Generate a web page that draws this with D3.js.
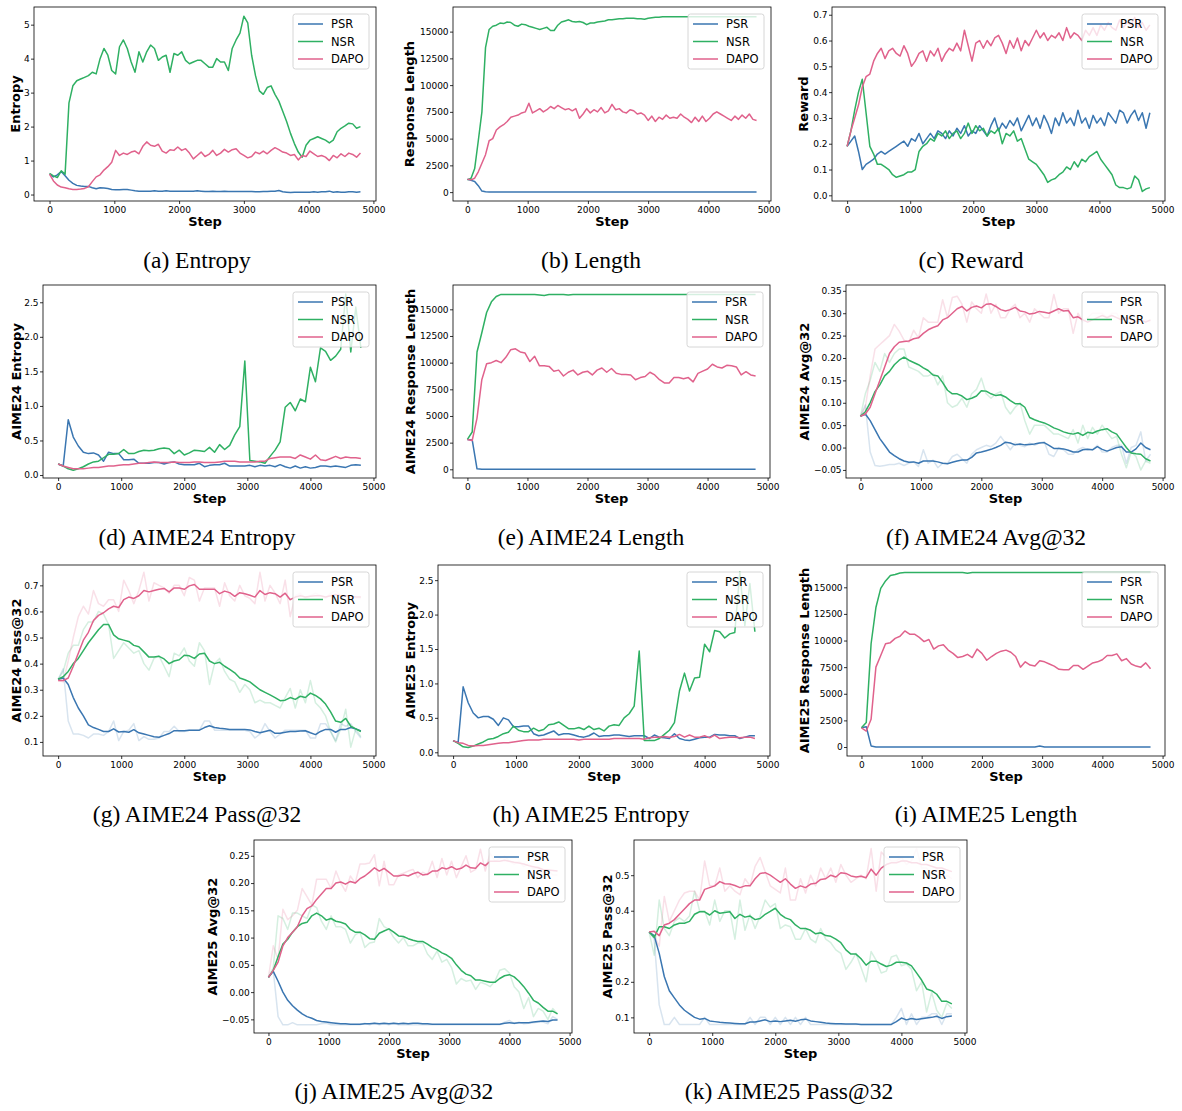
<!DOCTYPE html>
<html>
<head>
<meta charset="utf-8">
<script src="https://cdn.jsdelivr.net/npm/d3@7"></script>
<style>
body { margin: 0; background: #fff; }
svg text { font-family: "DejaVu Sans", sans-serif; }
</style>
</head>
<body>
<svg id="fig" width="1182" height="1111"></svg>
<script>
// ---- steps ----
const trainSteps = [0,60,120,180,240,300,360,420,480,540,
  600,660,720,780,840,900,960,1020,1080,1140,
  1200,1260,1320,1380,1440,1500,1560,1620,1680,1740,
  1800,1860,1920,1980,2040,2100,2160,2220,2280,2340,
  2400,2460,2520,2580,2640,2700,2760,2820,2880,2940,
  3000,3060,3120,3180,3240,3300,3360,3420,3480,3540,
  3600,3660,3720,3780,3840,3900,3960,4020,4080,4140,
  4200,4260,4320,4380,4440,4500,4560,4620,4680,4740,
  4800];
const evalSteps = [0,80,160,240,320,400,480,560,640,720,
  800,880,960,1040,1120,1200,1280,1360,1440,1520,
  1600,1680,1760,1840,1920,2000,2080,2160,2240,2320,
  2400,2480,2560,2640,2720,2800,2880,2960,3040,3120,
  3200,3280,3360,3440,3520,3600,3680,3760,3840,3920,
  4000,4080,4160,4240,4320,4400,4480,4560,4640,4720,
  4800];
const xTicks = [0,1000,2000,3000,4000,5000];
const methods = ["PSR","NSR","DAPO"];

// ---- (a) training entropy ----
const entropyPSR = [0.6,0.52,0.58,0.68,0.55,0.42,0.33,0.27,0.25,0.24,
  0.24,0.2,0.17,0.2,0.19,0.18,0.15,0.14,0.14,0.15,
  0.15,0.13,0.11,0.1,0.1,0.1,0.1,0.11,0.1,0.1,
  0.11,0.1,0.1,0.1,0.1,0.1,0.1,0.1,0.11,0.1,
  0.09,0.09,0.1,0.09,0.09,0.1,0.09,0.09,0.09,0.09,
  0.09,0.09,0.09,0.08,0.08,0.09,0.09,0.1,0.1,0.12,
  0.08,0.07,0.06,0.07,0.07,0.07,0.07,0.07,0.08,0.07,
  0.08,0.08,0.1,0.07,0.08,0.07,0.07,0.08,0.08,0.07,
  0.08];
const entropyNSR = [0.62,0.55,0.5,0.7,0.6,2.7,3.2,3.35,3.4,3.45,
  3.5,3.6,3.55,4.0,4.3,4.1,3.65,3.55,4.35,4.55,
  4.3,3.9,3.6,4.2,3.9,4.2,4.4,4.3,3.95,4.05,
  4.1,3.6,4.15,4.1,4.2,3.95,3.85,3.9,3.95,3.95,
  3.85,3.75,3.75,4.0,3.9,3.9,3.65,4.3,4.55,4.75,
  5.25,5.05,4.1,3.5,3.05,2.95,3.15,3.2,2.95,2.75,
  2.45,2.15,1.8,1.5,1.25,1.1,1.45,1.6,1.65,1.7,
  1.65,1.6,1.52,1.6,1.85,1.95,2.02,2.1,2.08,1.95,
  2.0];
const entropyDAPO = [0.6,0.4,0.28,0.22,0.2,0.17,0.15,0.15,0.16,0.18,
  0.23,0.38,0.52,0.58,0.72,0.82,0.95,1.3,1.15,1.22,
  1.18,1.25,1.28,1.2,1.42,1.55,1.45,1.42,1.48,1.28,
  1.22,1.32,1.3,1.4,1.3,1.35,1.22,1.05,1.15,1.25,
  1.12,1.18,1.3,1.15,1.22,1.33,1.25,1.32,1.35,1.22,
  1.15,1.08,1.12,1.25,1.2,1.28,1.2,1.3,1.38,1.32,
  1.25,1.22,1.15,1.18,1.02,1.15,1.12,1.28,1.2,1.12,
  1.15,1.1,1.0,1.15,1.08,1.2,1.12,1.22,1.18,1.1,
  1.22];

// ---- (b) training response length ----
const lengthPSR = [1200,1100,1000,600,100,30,20,20,20,20,
  20,20,20,20,20,20,20,20,20,20,
  20,20,20,20,20,20,20,20,20,20,
  20,20,20,20,20,20,20,20,20,20,
  20,20,20,20,20,20,20,20,20,20,
  20,20,20,20,20,20,20,20,20,20,
  20,20,20,20,20,20,20,20,20,20,
  20,20,20,20,20,20,20,20,20,20,
  20];
const lengthNSR = [1150,1300,2200,4800,7500,13500,15200,15500,15600,15800,
  15750,15900,15850,15600,15500,15700,15650,15500,15400,15300,
  15200,15300,15400,15100,15100,15600,15900,16000,16100,15950,
  15900,15950,15850,15650,15800,15800,15900,15950,16000,16100,
  16100,16150,16200,16200,16250,16250,16250,16200,16200,16150,
  16250,16300,16350,16350,16380,16380,16380,16380,16380,16380,
  16380,16380,16380,16380,16380,16380,16380,16380,16380,16380,
  16380,16380,16380,16380,16380,16380,16380,16380,16380,16380,
  16380];
const lengthDAPO = [1200,1150,1300,1900,2700,3500,4800,5000,5800,6100,
  6300,6600,7000,7100,7200,7400,7500,8300,7400,7600,
  7800,7500,7700,8000,7800,8100,7900,7700,7800,7600,
  7800,6900,7300,7800,7400,7700,7500,7900,7400,7600,
  8200,7700,7800,7500,7400,7700,7600,7300,7400,7200,
  6700,7100,6600,7000,6800,7200,6900,7000,6900,7300,
  7000,6800,6500,7000,6600,7100,6600,6900,7300,7500,
  7300,7100,6900,6700,7100,6800,7200,6900,7300,6800,
  6700];

// ---- (c) training reward ----
const rewardPSR = [0.19,0.21,0.23,0.17,0.1,0.12,0.13,0.14,0.16,0.17,
  0.16,0.17,0.18,0.19,0.2,0.21,0.19,0.22,0.21,0.24,
  0.2,0.22,0.24,0.22,0.25,0.24,0.22,0.25,0.23,0.26,
  0.24,0.27,0.23,0.25,0.24,0.27,0.25,0.23,0.27,0.3,
  0.25,0.28,0.26,0.29,0.27,0.3,0.25,0.28,0.31,0.27,
  0.3,0.26,0.31,0.28,0.24,0.3,0.27,0.32,0.28,0.3,
  0.27,0.33,0.28,0.3,0.26,0.31,0.28,0.3,0.27,0.32,
  0.3,0.28,0.33,0.32,0.28,0.31,0.33,0.29,0.32,0.26,
  0.32];
const rewardNSR = [0.19,0.25,0.33,0.4,0.45,0.32,0.19,0.16,0.12,0.12,
  0.11,0.1,0.08,0.07,0.075,0.08,0.09,0.09,0.1,0.17,
  0.19,0.2,0.22,0.21,0.24,0.23,0.25,0.22,0.24,0.25,
  0.22,0.24,0.28,0.24,0.27,0.25,0.26,0.23,0.25,0.24,
  0.26,0.2,0.24,0.23,0.25,0.21,0.22,0.18,0.14,0.13,
  0.12,0.1,0.08,0.05,0.06,0.065,0.08,0.09,0.11,0.1,
  0.13,0.11,0.14,0.13,0.15,0.16,0.17,0.14,0.12,0.1,
  0.08,0.04,0.03,0.03,0.025,0.03,0.075,0.06,0.015,0.025,
  0.03];
const rewardDAPO = [0.19,0.25,0.3,0.35,0.42,0.46,0.47,0.52,0.55,0.57,
  0.53,0.56,0.57,0.55,0.54,0.58,0.55,0.5,0.52,0.55,
  0.56,0.52,0.56,0.54,0.57,0.52,0.55,0.57,0.56,0.59,
  0.56,0.64,0.58,0.52,0.59,0.6,0.57,0.6,0.58,0.61,
  0.62,0.59,0.55,0.6,0.57,0.61,0.56,0.6,0.58,0.61,
  0.64,0.61,0.63,0.6,0.62,0.61,0.63,0.6,0.65,0.61,
  0.63,0.62,0.6,0.64,0.62,0.65,0.62,0.66,0.64,0.67,
  0.65,0.64,0.68,0.65,0.67,0.66,0.69,0.65,0.67,0.64,
  0.66];

// ---- (d) AIME24 entropy ----
const a24EntropyPSR = [0.16,0.13,0.8,0.55,0.42,0.33,0.31,0.32,0.29,0.2,
  0.33,0.31,0.31,0.22,0.22,0.23,0.17,0.17,0.17,0.18,
  0.18,0.16,0.18,0.19,0.16,0.15,0.15,0.15,0.17,0.12,
  0.14,0.15,0.15,0.17,0.13,0.13,0.13,0.13,0.14,0.12,
  0.14,0.13,0.14,0.12,0.15,0.12,0.1,0.13,0.1,0.12,
  0.1,0.11,0.13,0.13,0.12,0.13,0.12,0.11,0.14,0.15,
  0.14];
const a24EntropyNSR = [0.16,0.13,0.09,0.07,0.09,0.12,0.16,0.19,0.2,0.25,
  0.3,0.3,0.31,0.37,0.31,0.31,0.34,0.36,0.35,0.36,
  0.38,0.39,0.38,0.31,0.36,0.29,0.32,0.36,0.35,0.34,
  0.4,0.33,0.44,0.37,0.43,0.58,0.7,1.65,0.21,0.2,
  0.19,0.17,0.27,0.36,0.48,0.98,1.05,0.93,1.1,1.06,
  1.56,1.35,1.84,1.79,1.66,1.72,1.82,2.62,1.78,2.43,
  1.84];
const a24EntropyDAPO = [0.16,0.13,0.11,0.09,0.09,0.09,0.1,0.11,0.11,0.12,
  0.13,0.13,0.14,0.15,0.15,0.16,0.17,0.17,0.18,0.19,
  0.18,0.18,0.18,0.19,0.18,0.18,0.18,0.19,0.19,0.18,
  0.18,0.18,0.19,0.2,0.2,0.2,0.19,0.19,0.19,0.19,
  0.2,0.2,0.24,0.25,0.26,0.26,0.26,0.24,0.29,0.26,
  0.23,0.29,0.22,0.21,0.24,0.27,0.24,0.26,0.25,0.25,
  0.24];

// ---- (e) AIME24 length ----
const a24LengthPSR = [2800,2750,50,10,10,10,10,10,10,10,
  10,10,10,10,10,10,10,10,10,10,
  10,10,10,10,10,10,10,10,10,10,
  10,10,10,10,10,10,10,10,10,10,
  10,10,10,10,10,10,10,10,10,10,
  10,10,10,10,10,10,10,10,10,10,
  10];
const a24LengthNSR = [2800,3500,11000,12800,14700,15700,16200,16400,16400,16400,
  16380,16380,16400,16380,16400,16350,16300,16380,16400,16400,
  16400,16350,16380,16400,16400,16400,16400,16400,16400,16400,
  16400,16400,16400,16400,16400,16400,16400,16400,16400,16400,
  16400,16400,16400,16400,16400,16400,16400,16400,16400,16400,
  16400,16400,16400,16400,16400,16400,16400,16400,16400,16400,
  16400];
const a24LengthDAPO = [2800,2700,4800,8400,9900,10000,10200,10000,10500,11200,
  11300,11000,10900,10100,10600,9700,9700,9650,9200,9300,
  8750,9100,9300,8850,9100,9200,8850,9300,9500,9100,
  9450,9000,8900,8900,8850,8400,8600,8700,9100,8850,
  8400,8100,8100,8600,8600,8500,8600,8200,9000,9200,
  9400,9850,9600,9500,9750,9700,9600,8850,9150,8850,
  8750];

// ---- (f) AIME24 Avg@32: smoothed and raw ----
const a24AvgPSR = [0.07,0.075,0.06,0.04,0.02,0.005,-0.01,-0.018,-0.025,-0.03,
  -0.033,-0.032,-0.035,-0.03,-0.03,-0.03,-0.032,-0.035,-0.036,-0.033,
  -0.03,-0.028,-0.028,-0.022,-0.012,-0.01,-0.007,-0.004,0.0,0.005,
  0.012,0.01,0.006,0.008,0.006,0.007,0.008,0.01,0.011,0.005,
  -0.002,-0.002,-0.003,-0.006,-0.01,-0.01,-0.005,-0.004,-0.005,0.002,
  -0.004,-0.008,-0.004,0.0,0.002,-0.01,-0.01,-0.003,0.01,0.0,
  -0.005];
const a24AvgPSRRaw = [0.07,0.095,-0.01,-0.04,-0.042,-0.04,-0.038,-0.038,-0.035,-0.04,
  -0.035,-0.032,-0.042,-0.005,-0.035,-0.028,-0.045,-0.035,-0.035,-0.02,
  -0.015,-0.025,-0.035,-0.015,-0.005,0.0,0.005,0.002,0.01,0.025,
  0.01,-0.005,0.01,0.005,0.002,0.01,0.005,0.01,0.013,-0.015,
  -0.02,0.0,-0.005,-0.015,-0.015,-0.005,0.0,-0.005,-0.005,0.005,
  -0.01,-0.01,0.0,0.005,0.005,-0.035,0.0,0.005,0.035,-0.03,
  -0.015];
const a24AvgNSR = [0.07,0.08,0.1,0.125,0.14,0.16,0.17,0.185,0.195,0.202,
  0.195,0.19,0.185,0.178,0.172,0.162,0.16,0.145,0.128,0.12,
  0.12,0.115,0.107,0.11,0.115,0.127,0.126,0.12,0.116,0.118,
  0.113,0.105,0.098,0.098,0.09,0.067,0.062,0.058,0.055,0.05,
  0.044,0.04,0.035,0.032,0.03,0.033,0.027,0.034,0.032,0.037,
  0.04,0.042,0.035,0.03,0.015,0.0,-0.012,-0.014,-0.015,-0.025,
  -0.03];
const a24AvgNSRRaw = [0.07,0.12,0.15,0.19,0.17,0.21,0.19,0.21,0.22,0.22,
  0.18,0.175,0.17,0.16,0.16,0.165,0.14,0.16,0.1,0.09,
  0.095,0.11,0.09,0.12,0.13,0.155,0.12,0.11,0.12,0.125,
  0.09,0.075,0.09,0.1,0.06,0.03,0.05,0.05,0.05,0.04,
  0.03,0.03,0.025,0.02,0.04,0.01,0.05,0.02,0.045,0.03,
  0.05,0.035,0.02,0.025,-0.015,-0.045,-0.01,-0.02,-0.05,-0.03,
  -0.035];
const a24AvgDAPO = [0.07,0.075,0.09,0.12,0.15,0.18,0.21,0.225,0.235,0.237,
  0.238,0.243,0.245,0.255,0.263,0.268,0.272,0.285,0.29,0.3,
  0.31,0.315,0.305,0.313,0.316,0.312,0.32,0.321,0.315,0.308,
  0.305,0.308,0.313,0.305,0.303,0.298,0.3,0.304,0.302,0.3,
  0.305,0.31,0.305,0.306,0.29,0.292,0.285,0.28,0.285,0.29,
  0.295,0.29,0.295,0.29,0.285,0.29,0.285,0.28,0.285,0.28,
  0.285];
const a24AvgDAPORaw = [0.07,0.09,0.16,0.22,0.23,0.24,0.25,0.275,0.26,0.24,
  0.235,0.262,0.245,0.29,0.28,0.28,0.28,0.33,0.29,0.335,
  0.338,0.32,0.28,0.325,0.31,0.3,0.343,0.3,0.32,0.29,
  0.29,0.31,0.32,0.29,0.3,0.28,0.31,0.3,0.29,0.29,
  0.342,0.3,0.31,0.31,0.255,0.3,0.28,0.29,0.3,0.3,
  0.3,0.29,0.3,0.3,0.28,0.28,0.3,0.29,0.28,0.285,
  0.28];

// ---- (g) AIME24 Pass@32 ----
const a24PassPSR = [0.34,0.345,0.32,0.27,0.23,0.2,0.165,0.155,0.148,0.14,
  0.14,0.15,0.138,0.14,0.137,0.147,0.135,0.13,0.125,0.12,
  0.118,0.125,0.132,0.143,0.143,0.143,0.145,0.145,0.145,0.155,
  0.162,0.155,0.152,0.15,0.148,0.148,0.148,0.148,0.146,0.14,
  0.135,0.14,0.145,0.133,0.133,0.137,0.14,0.14,0.142,0.143,
  0.135,0.128,0.14,0.148,0.148,0.137,0.148,0.148,0.155,0.15,
  0.142];
const a24PassPSRRaw = [0.34,0.38,0.18,0.13,0.13,0.125,0.115,0.13,0.13,0.125,
  0.14,0.18,0.105,0.14,0.145,0.17,0.105,0.12,0.11,0.11,
  0.115,0.14,0.14,0.16,0.14,0.14,0.145,0.145,0.145,0.18,
  0.18,0.145,0.145,0.145,0.145,0.145,0.145,0.145,0.14,0.115,
  0.13,0.17,0.14,0.115,0.13,0.145,0.145,0.145,0.145,0.145,
  0.115,0.115,0.17,0.17,0.14,0.105,0.17,0.16,0.17,0.14,
  0.115];
const a24PassNSR = [0.34,0.35,0.37,0.4,0.42,0.45,0.48,0.505,0.53,0.55,
  0.55,0.51,0.495,0.49,0.485,0.47,0.465,0.445,0.425,0.425,
  0.428,0.418,0.4,0.41,0.415,0.432,0.43,0.42,0.437,0.44,
  0.41,0.4,0.405,0.39,0.378,0.365,0.345,0.338,0.33,0.315,
  0.3,0.29,0.28,0.27,0.258,0.26,0.27,0.263,0.275,0.27,
  0.287,0.278,0.265,0.245,0.215,0.18,0.175,0.19,0.16,0.15,
  0.14];
const a24PassNSRRaw = [0.34,0.37,0.44,0.47,0.47,0.53,0.56,0.56,0.6,0.59,
  0.55,0.42,0.45,0.48,0.46,0.44,0.45,0.4,0.375,0.42,
  0.43,0.39,0.35,0.44,0.43,0.46,0.41,0.39,0.48,0.45,
  0.32,0.4,0.42,0.37,0.34,0.33,0.29,0.32,0.3,0.25,
  0.26,0.25,0.25,0.24,0.23,0.27,0.305,0.23,0.3,0.25,
  0.335,0.25,0.23,0.2,0.14,0.1,0.15,0.225,0.08,0.15,
  0.12];
const a24PassDAPO = [0.335,0.335,0.345,0.39,0.44,0.49,0.52,0.565,0.585,0.595,
  0.61,0.62,0.615,0.645,0.655,0.65,0.66,0.68,0.675,0.68,
  0.685,0.688,0.675,0.69,0.69,0.685,0.698,0.703,0.685,0.685,
  0.685,0.685,0.668,0.678,0.672,0.658,0.672,0.668,0.662,0.655,
  0.68,0.665,0.672,0.668,0.655,0.67,0.645,0.655,0.66,0.655,
  0.658,0.66,0.66,0.655,0.66,0.665,0.66,0.66,0.66,0.655,
  0.655];
const a24PassDAPORaw = [0.335,0.33,0.41,0.5,0.58,0.62,0.59,0.68,0.63,0.62,
  0.645,0.645,0.6,0.72,0.68,0.63,0.68,0.75,0.64,0.71,
  0.7,0.69,0.67,0.7,0.7,0.66,0.73,0.72,0.64,0.69,
  0.69,0.69,0.62,0.71,0.66,0.64,0.7,0.66,0.65,0.63,
  0.75,0.64,0.7,0.67,0.63,0.72,0.58,0.66,0.67,0.65,
  0.66,0.67,0.66,0.65,0.67,0.68,0.66,0.66,0.66,0.65,
  0.65];

// ---- (h) AIME25 entropy ----
const a25EntropyPSR = [0.17,0.14,0.95,0.72,0.57,0.5,0.52,0.52,0.48,0.39,
  0.5,0.47,0.37,0.37,0.38,0.38,0.27,0.24,0.25,0.28,
  0.31,0.25,0.27,0.27,0.25,0.23,0.22,0.24,0.28,0.23,
  0.24,0.24,0.25,0.25,0.24,0.23,0.24,0.24,0.24,0.2,
  0.25,0.22,0.21,0.2,0.27,0.2,0.18,0.17,0.19,0.21,
  0.22,0.22,0.26,0.25,0.25,0.24,0.24,0.2,0.22,0.24,
  0.24];
const a25EntropyNSR = [0.17,0.13,0.08,0.07,0.09,0.12,0.15,0.19,0.2,0.23,
  0.27,0.29,0.38,0.32,0.3,0.3,0.35,0.31,0.33,0.4,
  0.41,0.44,0.39,0.34,0.34,0.36,0.33,0.38,0.33,0.35,
  0.31,0.38,0.4,0.39,0.5,0.56,0.67,1.47,0.17,0.17,
  0.17,0.2,0.26,0.32,0.43,0.89,1.15,0.89,1.08,1.09,
  1.57,1.46,1.77,1.75,1.66,1.72,1.74,2.62,1.84,2.45,
  1.75];
const a25EntropyDAPO = [0.17,0.14,0.13,0.1,0.09,0.1,0.1,0.11,0.12,0.13,
  0.14,0.14,0.15,0.16,0.17,0.18,0.18,0.18,0.19,0.19,
  0.19,0.19,0.19,0.19,0.19,0.18,0.19,0.19,0.19,0.19,
  0.19,0.19,0.2,0.2,0.2,0.2,0.2,0.2,0.19,0.21,
  0.22,0.22,0.23,0.22,0.23,0.26,0.22,0.25,0.22,0.22,
  0.24,0.21,0.25,0.2,0.21,0.22,0.22,0.21,0.22,0.22,
  0.2];

// ---- (i) AIME25 length ----
const a25LengthPSR = [1800,1900,100,10,10,10,10,10,10,10,
  10,10,10,10,10,10,10,10,10,10,
  10,10,10,10,10,10,10,10,10,10,
  10,10,10,10,10,10,10,100,10,10,
  10,10,10,10,10,10,10,10,10,10,
  10,10,10,10,10,10,10,10,10,10,
  10];
const a25LengthNSR = [1800,2300,9700,13100,14900,15600,16100,16200,16350,16380,
  16380,16380,16380,16380,16380,16380,16380,16380,16380,16380,
  16380,16380,16330,16380,16380,16380,16380,16380,16380,16380,
  16380,16380,16380,16380,16380,16380,16380,16380,16380,16380,
  16380,16380,16380,16380,16380,16380,16380,16380,16380,16380,
  16380,16380,16380,16380,16380,16380,16380,16380,16380,16380,
  16380];
const a25LengthDAPO = [1800,1500,2600,7500,8600,9700,9800,10200,10400,10900,
  10600,10600,10300,9900,10100,9200,9500,9600,9100,8800,
  8400,8500,8700,8400,9200,8800,8150,8500,8800,9000,
  9100,8900,8500,7500,8000,7700,7600,8100,8000,7800,
  7600,7300,7250,7250,7650,7650,7300,7600,7900,8000,
  8200,8600,8600,8750,8100,8300,7800,7600,7500,7900,
  7350];

// ---- (j) AIME25 Avg@32 ----
const a25AvgPSR = [0.027,0.038,0.02,0.0,-0.015,-0.025,-0.033,-0.04,-0.045,-0.048,
  -0.052,-0.054,-0.055,-0.056,-0.057,-0.058,-0.058,-0.059,-0.059,-0.059,
  -0.058,-0.058,-0.057,-0.058,-0.057,-0.058,-0.057,-0.058,-0.057,-0.058,
  -0.057,-0.057,-0.058,-0.058,-0.059,-0.059,-0.059,-0.059,-0.059,-0.059,
  -0.059,-0.059,-0.059,-0.059,-0.059,-0.059,-0.059,-0.059,-0.059,-0.057,
  -0.056,-0.057,-0.056,-0.056,-0.056,-0.055,-0.054,-0.053,-0.054,-0.051,
  -0.051];
const a25AvgPSRRaw = [0.027,0.04,-0.045,-0.06,-0.06,-0.056,-0.06,-0.06,-0.06,-0.06,
  -0.06,-0.058,-0.057,-0.06,-0.06,-0.06,-0.06,-0.06,-0.06,-0.06,
  -0.057,-0.06,-0.057,-0.06,-0.058,-0.06,-0.057,-0.06,-0.06,-0.06,
  -0.06,-0.06,-0.06,-0.06,-0.06,-0.06,-0.06,-0.06,-0.06,-0.06,
  -0.06,-0.06,-0.06,-0.06,-0.06,-0.06,-0.06,-0.06,-0.06,-0.055,
  -0.052,-0.058,-0.055,-0.058,-0.057,-0.056,-0.055,-0.055,-0.058,-0.045,
  -0.05];
const a25AvgNSR = [0.027,0.04,0.065,0.088,0.097,0.11,0.12,0.126,0.128,0.14,
  0.145,0.14,0.132,0.135,0.13,0.128,0.125,0.115,0.11,0.11,
  0.105,0.098,0.097,0.108,0.112,0.116,0.11,0.103,0.102,0.098,
  0.095,0.093,0.093,0.088,0.082,0.078,0.072,0.068,0.062,0.05,
  0.04,0.033,0.03,0.022,0.022,0.02,0.018,0.018,0.025,0.03,
  0.032,0.028,0.02,0.01,-0.002,-0.015,-0.02,-0.028,-0.035,-0.035,
  -0.04];
const a25AvgNSRRaw = [0.027,0.045,0.14,0.135,0.115,0.145,0.145,0.14,0.135,0.16,
  0.155,0.13,0.115,0.14,0.12,0.12,0.115,0.09,0.105,0.11,
  0.082,0.09,0.092,0.135,0.12,0.115,0.1,0.09,0.1,0.085,
  0.085,0.09,0.09,0.07,0.06,0.075,0.055,0.06,0.045,0.015,
  0.025,0.02,0.022,0.005,0.018,0.015,0.01,0.02,0.04,0.043,
  0.035,0.01,0.0,-0.03,-0.01,-0.045,-0.03,-0.035,-0.05,-0.03,
  -0.04];
const a25AvgDAPO = [0.027,0.04,0.055,0.085,0.1,0.11,0.12,0.14,0.153,0.158,
  0.17,0.18,0.19,0.19,0.2,0.202,0.198,0.203,0.2,0.208,
  0.213,0.22,0.228,0.222,0.227,0.22,0.213,0.213,0.215,0.213,
  0.217,0.22,0.215,0.216,0.222,0.222,0.228,0.226,0.23,0.225,
  0.227,0.233,0.228,0.227,0.237,0.232,0.24,0.24,0.24,0.242,
  0.24,0.238,0.237,0.235,0.232,0.23,0.228,0.225,0.224,0.223,
  0.222];
const a25AvgDAPORaw = [0.027,0.085,0.06,0.152,0.133,0.14,0.15,0.19,0.175,0.16,
  0.207,0.207,0.207,0.19,0.222,0.2,0.185,0.213,0.2,0.235,
  0.235,0.237,0.252,0.195,0.24,0.197,0.197,0.215,0.218,0.222,
  0.225,0.21,0.22,0.215,0.24,0.21,0.245,0.215,0.24,0.21,
  0.23,0.25,0.22,0.225,0.262,0.222,0.255,0.24,0.245,0.25,
  0.24,0.235,0.24,0.23,0.235,0.225,0.23,0.22,0.225,0.215,
  0.215];

// ---- (k) AIME25 Pass@32 ----
const a25PassPSR = [0.34,0.33,0.28,0.215,0.175,0.155,0.135,0.12,0.11,0.1,
  0.095,0.097,0.09,0.088,0.086,0.085,0.084,0.083,0.082,0.082,
  0.087,0.087,0.09,0.093,0.088,0.09,0.088,0.09,0.092,0.089,
  0.093,0.095,0.09,0.088,0.086,0.084,0.083,0.082,0.082,0.081,
  0.081,0.081,0.08,0.08,0.08,0.08,0.08,0.08,0.08,0.088,
  0.098,0.093,0.097,0.094,0.096,0.098,0.1,0.103,0.097,0.102,
  0.104];
const a25PassPSRRaw = [0.34,0.32,0.135,0.08,0.08,0.1,0.08,0.08,0.08,0.08,
  0.08,0.1,0.08,0.08,0.08,0.08,0.08,0.08,0.08,0.08,
  0.1,0.08,0.1,0.1,0.08,0.1,0.08,0.1,0.08,0.1,
  0.08,0.1,0.08,0.08,0.08,0.08,0.08,0.08,0.08,0.08,
  0.08,0.08,0.08,0.08,0.08,0.08,0.08,0.08,0.08,0.1,
  0.125,0.08,0.11,0.08,0.1,0.1,0.11,0.11,0.08,0.11,
  0.11];
const a25PassNSR = [0.34,0.325,0.355,0.355,0.35,0.36,0.365,0.365,0.37,0.39,
  0.397,0.397,0.388,0.4,0.393,0.395,0.397,0.378,0.39,0.382,
  0.385,0.375,0.378,0.39,0.398,0.407,0.39,0.38,0.375,0.36,
  0.35,0.35,0.345,0.335,0.338,0.33,0.328,0.32,0.31,0.29,
  0.278,0.278,0.265,0.247,0.258,0.258,0.25,0.243,0.247,0.255,
  0.255,0.253,0.245,0.225,0.205,0.18,0.175,0.165,0.145,0.145,
  0.138];
const a25PassNSRRaw = [0.34,0.275,0.43,0.35,0.33,0.37,0.38,0.37,0.385,0.455,
  0.4,0.4,0.36,0.43,0.37,0.4,0.4,0.32,0.43,0.345,
  0.39,0.35,0.385,0.43,0.41,0.42,0.35,0.36,0.355,0.32,
  0.32,0.35,0.32,0.31,0.35,0.32,0.31,0.29,0.28,0.235,
  0.255,0.28,0.24,0.2,0.285,0.26,0.225,0.23,0.27,0.275,
  0.245,0.25,0.235,0.175,0.2,0.115,0.17,0.12,0.1,0.14,
  0.125];
const a25PassDAPO = [0.34,0.342,0.33,0.36,0.365,0.375,0.39,0.405,0.42,0.43,
  0.43,0.46,0.465,0.47,0.482,0.476,0.475,0.471,0.465,0.47,
  0.47,0.49,0.505,0.507,0.5,0.49,0.48,0.49,0.475,0.463,
  0.47,0.465,0.475,0.477,0.488,0.49,0.5,0.495,0.507,0.505,
  0.498,0.495,0.497,0.493,0.517,0.5,0.52,0.53,0.535,0.535,
  0.54,0.54,0.535,0.535,0.53,0.53,0.525,0.52,0.52,0.515,
  0.51];
const a25PassDAPORaw = [0.34,0.33,0.3,0.44,0.37,0.4,0.43,0.45,0.455,0.455,
  0.43,0.54,0.47,0.47,0.52,0.455,0.47,0.455,0.445,0.49,
  0.47,0.525,0.55,0.51,0.47,0.46,0.45,0.52,0.43,0.43,
  0.49,0.45,0.5,0.47,0.52,0.49,0.52,0.48,0.53,0.5,
  0.48,0.49,0.5,0.49,0.575,0.455,0.565,0.55,0.54,0.54,
  0.55,0.53,0.54,0.575,0.52,0.52,0.5,0.52,0.49,0.5,
  0.49];

// ---- panel layout ----
const colors = { PSR: "#3a76b1", NSR: "#2fb063", DAPO: "#e0628c" };

const panels = [
  { cap: "(a) Entropy", capX: 197, capY: 268, box: [34, 376, 7, 201], ylab: "Entropy", ylabX: 16,
    y: [-0.19, 5.52], yTicks: [0,1,2,3,4,5], fmt: "d", steps: trainSteps,
    lines: { PSR: entropyPSR, NSR: entropyNSR, DAPO: entropyDAPO } },
  { cap: "(b) Length", capX: 591, capY: 268, box: [453, 771, 7, 201], ylab: "Response Length", ylabX: 410,
    y: [-830, 17300], yTicks: [0,2500,5000,7500,10000,12500,15000], fmt: "d", steps: trainSteps,
    lines: { PSR: lengthPSR, NSR: lengthNSR, DAPO: lengthDAPO } },
  { cap: "(c) Reward", capX: 971, capY: 268, box: [832, 1165, 7, 201], ylab: "Reward", ylabX: 804,
    y: [-0.022, 0.73], yTicks: [0,0.1,0.2,0.3,0.4,0.5,0.6,0.7], fmt: ".1f", steps: trainSteps,
    lines: { PSR: rewardPSR, NSR: rewardNSR, DAPO: rewardDAPO } },
  { cap: "(d) AIME24 Entropy", capX: 197, capY: 545, box: [43, 376, 285, 478], ylab: "AIME24 Entropy", ylabX: 17,
    y: [-0.043, 2.75], yTicks: [0,0.5,1,1.5,2,2.5], fmt: ".1f", steps: evalSteps,
    lines: { PSR: a24EntropyPSR, NSR: a24EntropyNSR, DAPO: a24EntropyDAPO } },
  { cap: "(e) AIME24 Length", capX: 591, capY: 545, box: [453, 770, 285, 478], ylab: "AIME24 Response Length", ylabX: 411,
    y: [-815, 17280], yTicks: [0,2500,5000,7500,10000,12500,15000], fmt: "d", steps: evalSteps,
    lines: { PSR: a24LengthPSR, NSR: a24LengthNSR, DAPO: a24LengthDAPO } },
  { cap: "(f) AIME24 Avg@32", capX: 986, capY: 545, box: [846, 1165, 285, 478], ylab: "AIME24 Avg@32", ylabX: 805,
    y: [-0.068, 0.363], yTicks: [-0.05,0,0.05,0.1,0.15,0.2,0.25,0.3,0.35], fmt: ".2f", steps: evalSteps,
    lines: { PSR: a24AvgPSR, NSR: a24AvgNSR, DAPO: a24AvgDAPO },
    raw: { PSR: a24AvgPSRRaw, NSR: a24AvgNSRRaw, DAPO: a24AvgDAPORaw } },
  { cap: "(g) AIME24 Pass@32", capX: 197, capY: 822, box: [43, 376, 565, 756], ylab: "AIME24 Pass@32", ylabX: 17,
    y: [0.046, 0.778], yTicks: [0.1,0.2,0.3,0.4,0.5,0.6,0.7], fmt: ".1f", steps: evalSteps,
    lines: { PSR: a24PassPSR, NSR: a24PassNSR, DAPO: a24PassDAPO },
    raw: { PSR: a24PassPSRRaw, NSR: a24PassNSRRaw, DAPO: a24PassDAPORaw } },
  { cap: "(h) AIME25 Entropy", capX: 591, capY: 822, box: [438, 770, 565, 756], ylab: "AIME25 Entropy", ylabX: 411,
    y: [-0.054, 2.72], yTicks: [0,0.5,1,1.5,2,2.5], fmt: ".1f", steps: evalSteps,
    lines: { PSR: a25EntropyPSR, NSR: a25EntropyNSR, DAPO: a25EntropyDAPO } },
  { cap: "(i) AIME25 Length", capX: 986, capY: 822, box: [847, 1165, 565, 756], ylab: "AIME25 Response Length", ylabX: 805,
    y: [-845, 17095], yTicks: [0,2500,5000,7500,10000,12500,15000], fmt: "d", steps: evalSteps,
    lines: { PSR: a25LengthPSR, NSR: a25LengthNSR, DAPO: a25LengthDAPO } },
  { cap: "(j) AIME25 Avg@32", capX: 394, capY: 1099, box: [254, 572, 840, 1033], ylab: "AIME25 Avg@32", ylabX: 213,
    y: [-0.075, 0.279], yTicks: [-0.05,0,0.05,0.1,0.15,0.2,0.25], fmt: ".2f", steps: evalSteps,
    lines: { PSR: a25AvgPSR, NSR: a25AvgNSR, DAPO: a25AvgDAPO },
    raw: { PSR: a25AvgPSRRaw, NSR: a25AvgNSRRaw, DAPO: a25AvgDAPORaw } },
  { cap: "(k) AIME25 Pass@32", capX: 789, capY: 1099, box: [634, 967, 840, 1033], ylab: "AIME25 Pass@32", ylabX: 608,
    y: [0.056, 0.599], yTicks: [0.1,0.2,0.3,0.4,0.5], fmt: ".1f", steps: evalSteps,
    lines: { PSR: a25PassPSR, NSR: a25PassNSR, DAPO: a25PassDAPO },
    raw: { PSR: a25PassPSRRaw, NSR: a25PassNSRRaw, DAPO: a25PassDAPORaw } }
];

const svg = d3.select("#fig");

panels.forEach((p, idx) => {
  const [x0, x1, y0, y1] = p.box;
  const x = d3.scaleLinear().domain([-240, 5040]).range([x0, x1]);
  const y = d3.scaleLinear().domain(p.y).range([y1, y0]);
  const g = svg.append("g");

  const clipId = "clip" + idx;
  g.append("clipPath").attr("id", clipId)
    .append("rect").attr("x", x0).attr("y", y0).attr("width", x1 - x0).attr("height", y1 - y0);

  const line = d3.line()
    .x(d => x(d[0]))
    .y(d => y(d[1]));
  const pts = vals => vals.map((v, i) => [p.steps[i], v]).filter(d => d[0] !== undefined);

  const plot = g.append("g").attr("clip-path", `url(#${clipId})`);
  if (p.raw) {
    methods.forEach(m => {
      plot.append("path")
        .attr("d", line(pts(p.raw[m])))
        .attr("fill", "none")
        .attr("stroke", colors[m])
        .attr("stroke-opacity", 0.2)
        .attr("stroke-width", 1.5)
        .attr("stroke-linejoin", "round");
    });
  }
  methods.forEach(m => {
    plot.append("path")
      .attr("d", line(pts(p.lines[m])))
      .attr("fill", "none")
      .attr("stroke", colors[m])
      .attr("stroke-width", 1.5)
      .attr("stroke-linejoin", "round");
  });

  // axes
  const xa = g.append("g").attr("transform", `translate(0,${y1})`)
    .call(d3.axisBottom(x).tickValues(xTicks).tickFormat(d3.format("d")).tickSize(3).tickPadding(2.7));
  const ya = g.append("g").attr("transform", `translate(${x0},0)`)
    .call(d3.axisLeft(y).tickValues(p.yTicks).tickFormat(d3.format(p.fmt)).tickSize(3).tickPadding(1.4));
  [xa, ya].forEach(a => {
    a.select(".domain").remove();
    a.selectAll("line").attr("stroke", "#000").attr("stroke-width", 0.8);
    a.selectAll("text").attr("fill", "#000").style("font-size", "9px").style("font-family", "DejaVu Sans, sans-serif");
  });

  g.append("rect")
    .attr("x", x0).attr("y", y0).attr("width", x1 - x0).attr("height", y1 - y0)
    .attr("fill", "none").attr("stroke", "#000").attr("stroke-width", 0.8);

  // labels
  g.append("text")
    .attr("x", (x0 + x1) / 2).attr("y", y1 + 24.5)
    .attr("text-anchor", "middle")
    .style("font-size", "13px").style("font-weight", "bold")
    .text("Step");
  g.append("text")
    .attr("transform", `translate(${p.ylabX - 1},${(y0 + y1) / 2}) rotate(-90)`)
    .attr("text-anchor", "middle").attr("dominant-baseline", "central")
    .style("font-size", "13px").style("font-weight", "bold")
    .text(p.ylab);

  // legend
  const lw = 76, lh = 55;
  const lx = x1 - 7 - lw, ly = y0 + 7;
  const leg = g.append("g").attr("transform", `translate(${lx},${ly})`);
  leg.append("rect")
    .attr("width", lw).attr("height", lh).attr("rx", 2.5)
    .attr("fill", "#fff").attr("fill-opacity", 0.8)
    .attr("stroke", "#cccccc").attr("stroke-width", 0.8);
  methods.forEach((m, i) => {
    const ry = 10 + i * 17.5;
    leg.append("line")
      .attr("x1", 5).attr("x2", 30).attr("y1", ry).attr("y2", ry)
      .attr("stroke", colors[m]).attr("stroke-width", 1.5);
    leg.append("text")
      .attr("x", 38).attr("y", ry).attr("dominant-baseline", "central")
      .style("font-size", "11.5px")
      .text(m);
  });

  // caption
  svg.append("text")
    .attr("x", p.capX).attr("y", p.capY)
    .attr("text-anchor", "middle")
    .style("font-family", "'Liberation Serif', 'Times New Roman', serif")
    .style("font-size", "23.5px")
    .text(p.cap);
});
</script>
</body>
</html>
